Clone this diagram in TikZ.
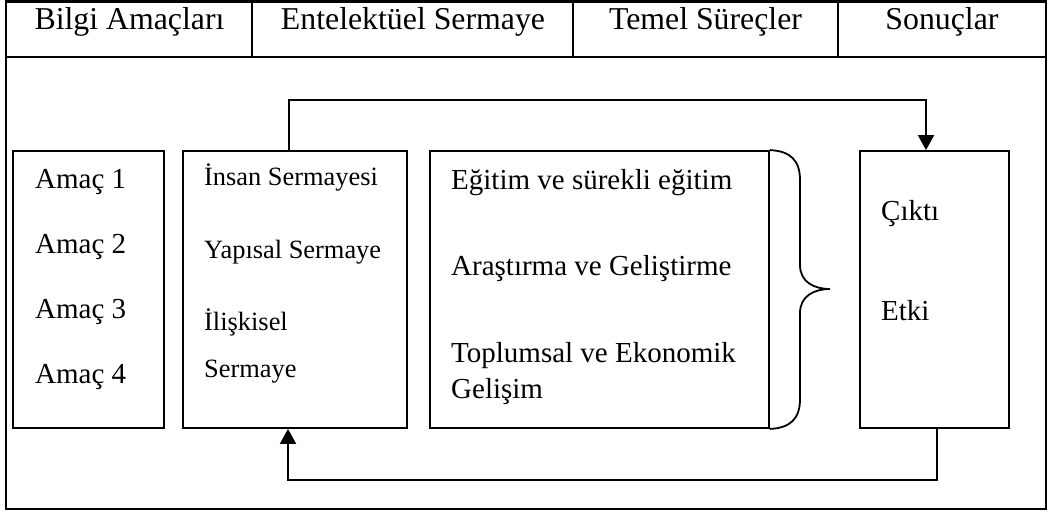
\documentclass[tikz,border=0pt]{standalone}
\usepackage{fontspec}
\setmainfont{Liberation Serif}
\usetikzlibrary{arrows.meta}
\begin{document}
\begin{tikzpicture}[x=1pt,y=-1pt,
  frameline/.style={line width=2.8pt},
  boxline/.style={line width=1.8pt},
  box/.style={draw,boxline,rectangle,inner sep=0pt,minimum height=277pt},
  conn/.style={line width=1.8pt},
  tip/.style={-{Triangle[width=16pt,length=15pt]}},
  head/.style={anchor=base,inner sep=0pt,font=\fontsize{31.8}{36}\selectfont},
  item/.style={anchor=base west,inner sep=0pt,font=\fontsize{29}{34}\selectfont},
  smallitem/.style={anchor=base west,inner sep=0pt,font=\fontsize{26.4}{31}\selectfont}]
\useasboundingbox (0,0) rectangle (1048,512);

% outer frame and header row
\draw[frameline] (6,1.5) rectangle (1046,509);
\draw[frameline] (6,57) -- (1046,57);
\draw[boxline] (252,1.5) -- (252,57);
\draw[boxline] (573,1.5) -- (573,57);
\draw[boxline] (838,1.5) -- (838,57);

\node[head] (h1) at (129.5,29) {Bilgi Amaçları};
\node[head] (h2) at (413,29) {Entelektüel Sermaye};
\node[head] (h3) at (705.5,29) {Temel Süreçler};
\node[head] (h4) at (942,29) {Sonuçlar};

% the four column boxes
\node[box,minimum width=151pt] (amac) at (88.5,289.5) {};
\node[box,minimum width=224pt] (serm) at (295,289.5) {};
\node[box,minimum width=339pt] (proc) at (599.5,289.5) {};
\node[box,minimum width=149pt] (out) at (934.5,289.5) {};

% box contents
\node[item] (a1) at (35,188) {Amaç 1};
\node[item] (a2) at (35,253) {Amaç 2};
\node[item] (a3) at (35,318) {Amaç 3};
\node[item] (a4) at (35,383) {Amaç 4};

\node[smallitem] (s1) at (204,185) {İnsan Sermayesi};
\node[smallitem] (s2) at (204,258) {Yapısal Sermaye};
\node[smallitem] (s3) at (204,330) {İlişkisel};
\node[smallitem] (s4) at (204,377) {Sermaye};

\node[item] (p1) at (451,189) {Eğitim ve sürekli eğitim};
\node[item] (p2) at (451,275) {Araştırma ve Geliştirme};
\node[item] (p3) at (451,362) {Toplumsal ve Ekonomik};
\node[item] (p4) at (451,398) {Gelişim};

\node[item] (o1) at (881,220) {Çıktı};
\node[item] (o2) at (881,320) {Etki};

% curly brace on the right of the process box
\draw[boxline] (proc.north east)
  .. controls (790,151) and (800,160) .. (800,180)
  -- (800,265)
  .. controls (800,282) and (814,289) .. (830,289)
  .. controls (814,289) and (800,296) .. (800,313)
  -- (800,399)
  .. controls (800,419) and (790,428) .. (proc.south east);

% feedback loop
\coordinate (tl) at (289,100);
\coordinate (tr) at (926,100);
\coordinate (br) at (937,480);
\coordinate (bl) at (288,480);
\draw[conn,tip] (serm.north -| tl) -- (tl) -- (tr) -- (out.north -| tr);
\draw[conn,tip] (out.south -| br) -- (br) -- (bl) -- (serm.south -| bl);
\end{tikzpicture}
\end{document}
